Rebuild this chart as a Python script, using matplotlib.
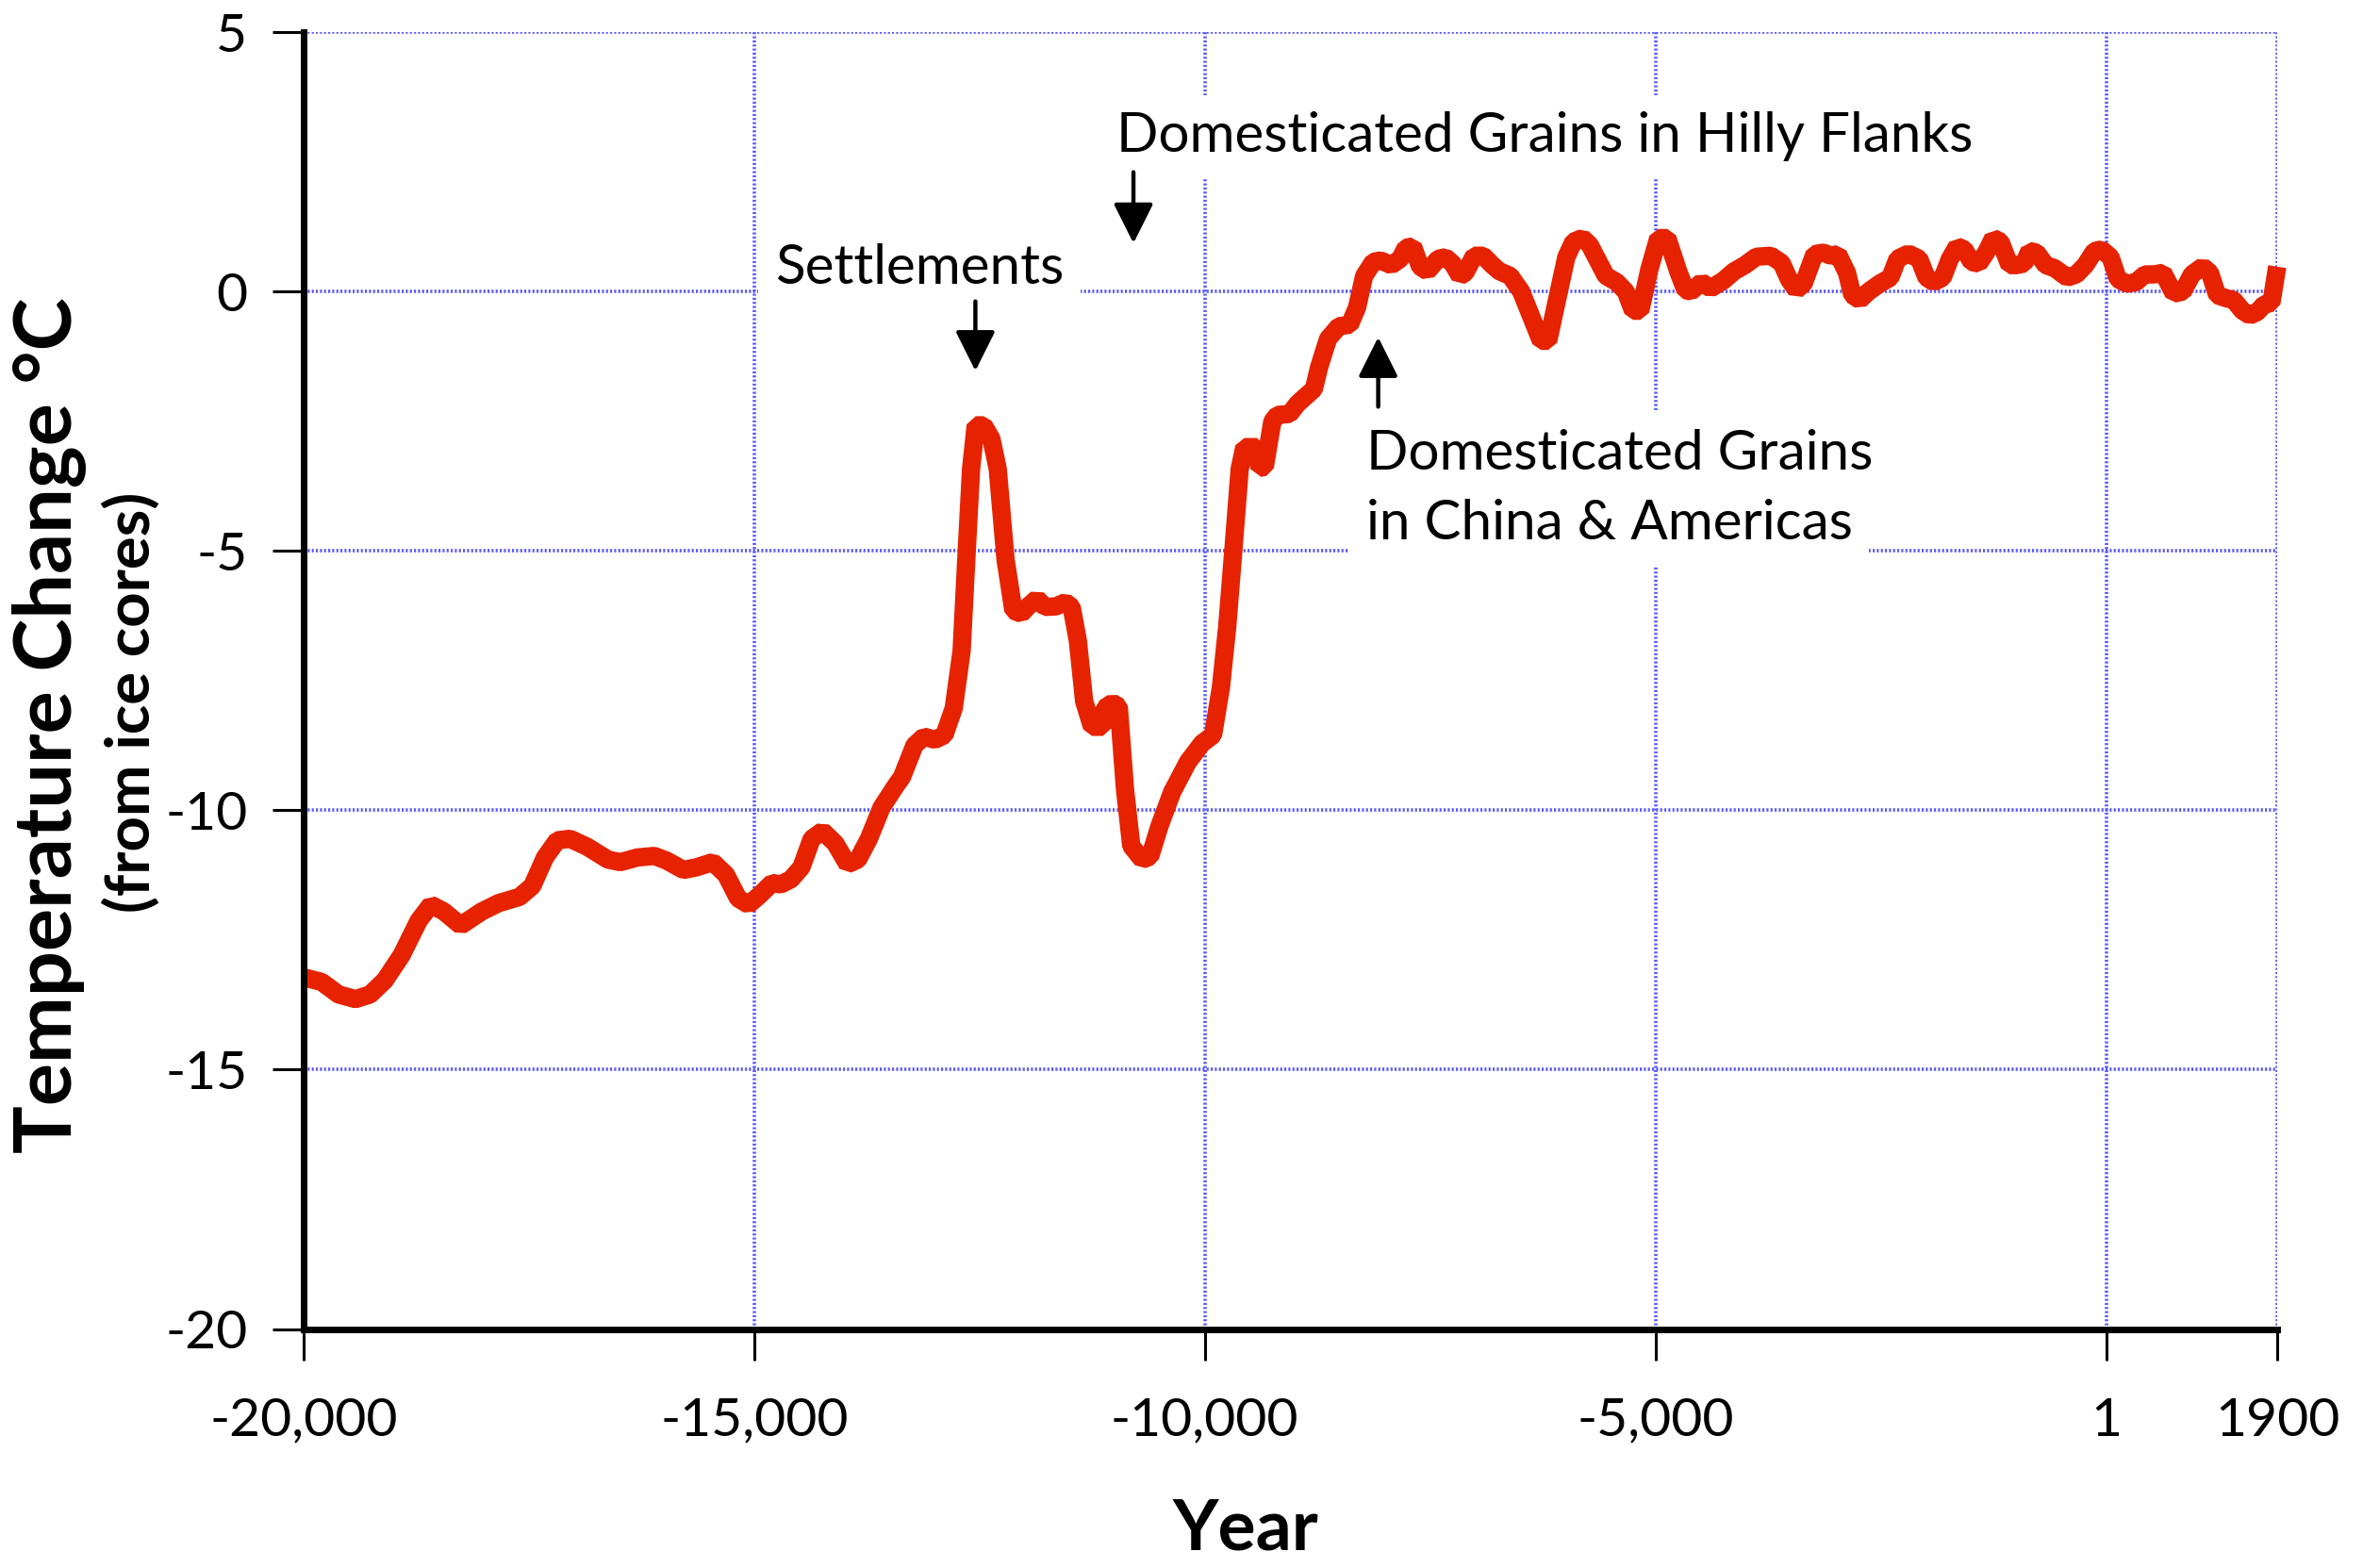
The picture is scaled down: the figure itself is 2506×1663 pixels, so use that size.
import numpy as np
import matplotlib
matplotlib.use('Agg')
import matplotlib.pyplot as plt

plt.rcParams['font.family'] = ['Lato', 'DejaVu Sans']

# temperature reconstruction (year, deg C)
years = [
    -20000, -19800, -19613, -19425, -19262, -19100, -18912, -18724, -18588, -18445,
    -18257, -18023, -17837, -17604, -17463, -17322, -17186, -17044, -16857, -16624,
    -16485, -16297, -16109, -15973, -15785, -15642, -15460, -15314, -15178, -15063,
    -14943, -14801, -14707, -14592, -14477, -14362, -14242, -14100, -13965, -13849,
    -13728, -13588, -13431, -13361, -13222, -13117, -12995, -12890, -12786, -12699,
    -12647, -12594, -12542, -12455, -12368, -12298, -12211, -12124, -12037, -11967,
    -11862, -11775, -11653, -11548, -11478, -11409, -11339, -11252, -11130, -11112,
    -11025, -10955, -10886, -10816, -10694, -10607, -10502, -10363, -10188, -10031,
    -9909, -9822, -9752, -9683, -9613, -9561, -9421, -9395, -9335, -9250,
    -9195, -9060, -8970, -8880, -8790, -8732, -8632, -8512, -8392, -8311,
    -8232, -8131, -8051, -7932, -7831, -7771, -7691, -7611, -7531, -7411,
    -7331, -7251, -7170, -7111, -7011, -6911, -6810, -6730, -6610, -6490,
    -6390, -6270, -6190, -6110, -5989, -5909, -5809, -5729, -5549, -5429,
    -5329, -5248, -5168, -5068, -4968, -4868, -4747, -4668, -4607, -4487,
    -4387, -4247, -4127, -4006, -3880, -3720, -3600, -3516, -3436, -3356,
    -3235, -3135, -3055, -2975, -2874, -2814, -2734, -2634, -2513, -2393,
    -2313, -2193, -2073, -1992, -1912, -1812, -1732, -1652, -1572, -1492,
    -1412, -1331, -1251, -1171, -1071, -991, -910, -850, -770, -670,
    -570, -430, -329, -229, -129, -49, 51, 132, 232, 332,
    432, 533, 633, 753, 853, 954, 1073, 1154, 1234, 1334,
    1414, 1514, 1595, 1675, 1755, 1835, 1900,
]
temps = [
    -13.22, -13.31, -13.55, -13.64, -13.55, -13.28, -12.79, -12.13, -11.82, -11.95,
    -12.22, -11.95, -11.79, -11.67, -11.46, -10.91, -10.58, -10.55, -10.70, -10.95,
    -11.00, -10.91, -10.88, -10.97, -11.15, -11.10, -11.00, -11.24, -11.70, -11.82,
    -11.64, -11.40, -11.43, -11.33, -11.10, -10.55, -10.40, -10.64, -11.04, -10.95,
    -10.55, -9.95, -9.53, -9.36, -8.75, -8.58, -8.64, -8.55, -8.03, -6.93,
    -5.17, -3.42, -2.58, -2.58, -2.84, -3.42, -5.17, -6.15, -6.21, -6.08,
    -5.92, -6.08, -6.07, -5.99, -6.08, -6.73, -7.90, -8.39, -8.39, -8.03,
    -7.93, -8.00, -9.59, -10.69, -10.95, -10.89, -10.30, -9.65, -9.07, -8.71,
    -8.55, -7.64, -6.47, -4.98, -3.42, -3.00, -3.00, -3.40, -3.38, -2.50,
    -2.38, -2.36, -2.16, -2.02, -1.88, -1.46, -0.91, -0.67, -0.64, -0.31,
    0.30, 0.57, 0.60, 0.51, 0.63, 0.84, 0.87, 0.48, 0.39, 0.63,
    0.66, 0.54, 0.30, 0.36, 0.69, 0.69, 0.51, 0.39, 0.30, 0.00,
    -0.43, -0.95, -0.95, -0.31, 0.66, 0.96, 1.03, 0.90, 0.30, 0.18,
    0.00, -0.37, -0.37, 0.42, 1.03, 1.03, 0.39, 0.03, 0.00, 0.18,
    0.06, 0.21, 0.39, 0.51, 0.67, 0.69, 0.55, 0.23, 0.03, 0.15,
    0.72, 0.75, 0.69, 0.72, 0.36, -0.07, -0.16, 0.00, 0.15, 0.27,
    0.63, 0.73, 0.63, 0.27, 0.18, 0.27, 0.63, 0.87, 0.81, 0.57,
    0.54, 0.75, 1.03, 0.96, 0.51, 0.51, 0.54, 0.78, 0.75, 0.51,
    0.45, 0.27, 0.33, 0.51, 0.78, 0.81, 0.66, 0.24, 0.15, 0.18,
    0.33, 0.33, 0.36, -0.04, 0.00, 0.33, 0.48, 0.36, -0.07, -0.13,
    -0.16, -0.37, -0.46, -0.40, -0.25, -0.22, 0.48,
]

x_ticks = [-20000, -15000, -10000, -5000, 1, 1900]
x_ticklabels = ['-20,000', '-15,000', '-10,000', '-5,000', '1', '1900']
y_ticks = [5, 0, -5, -10, -15, -20]
y_ticklabels = ['5', '0', '-5', '-10', '-15', '-20']

# annotations: (text, x, y) and arrows: (x, y_tail, y_tip)
labels = [
    ('Settlements', -14770, 0.145),
    ('Domesticated Grains in Hilly Flanks', -10978, 2.685),
    ('Domesticated Grains', -8208, -3.43),
    ('in China & Americas', -8208, -4.78),
]
arrows = [
    (-12546, -0.19, -1.53),
    (-10792, 2.30, 0.93),
    (-8076, -2.22, -0.88),
]

fig = plt.figure(figsize=(25.06, 16.63), dpi=100)
ax = fig.add_axes([0.1285, 0.1524, 0.8352, 0.8271])

ax.plot(years, temps, color='#e62200', lw=14, solid_joinstyle='bevel',
        solid_capstyle='butt', clip_on=False, zorder=5)

ax.set_xlim(-20000, 1900)
ax.set_ylim(-20, 5)
ax.set_xticks(x_ticks)
ax.set_xticklabels(x_ticklabels)
ax.set_yticks(y_ticks)
ax.set_yticklabels(y_ticklabels)

ax.grid(True, color='#5a5aff', lw=2.6, linestyle=(0, (0.6, 0.6)), zorder=1)
ax.set_axisbelow(True)

for side in ('top', 'right'):
    ax.spines[side].set_visible(False)
for side in ('left', 'bottom'):
    ax.spines[side].set_linewidth(5)
    ax.spines[side].set_zorder(6)

ax.tick_params(axis='both', direction='out', length=24, width=2.2, labelsize=41)
ax.tick_params(axis='y', pad=19)
ax.tick_params(axis='x', pad=28)

for txt, x, y in labels:
    ax.text(x, y, txt, fontsize=42, ha='left', va='baseline', zorder=4,
            bbox=dict(boxstyle='square,pad=0.3', fc='white', ec='none'))

for x, y0, y1 in arrows:
    ax.annotate('', xy=(x, y1), xytext=(x, y0), zorder=4,
                arrowprops=dict(arrowstyle='-|>,head_length=1.0,head_width=0.5',
                                mutation_scale=26, lw=3.2, color='black',
                                shrinkA=0, shrinkB=0))

fig.text(0.0207, 0.5376, 'Temperature Change °C', rotation=90, fontsize=61,
         fontweight='bold', ha='center', va='center')
fig.text(0.0555, 0.552, '(from ice cores)', rotation=90, fontsize=47,
         fontweight='bold', ha='center', va='center')
fig.text(0.527, 0.012, 'Year', fontsize=54, fontweight='bold',
         ha='center', va='baseline')

fig.savefig('out.png', dpi=100, facecolor='white')
